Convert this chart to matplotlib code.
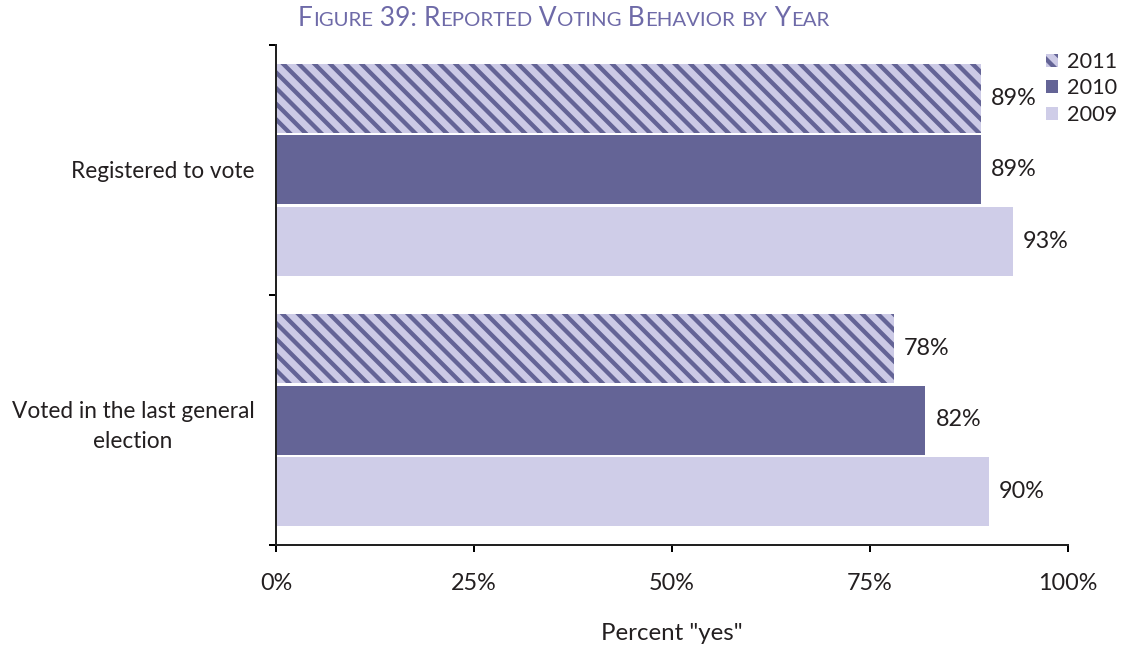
import numpy as np
import matplotlib.pyplot as plt
from matplotlib.offsetbox import TextArea, HPacker, AnchoredOffsetbox

categories = ['Registered to vote', 'Voted in the last general\nelection']
years = ['2011', '2010', '2009']
values = {
    '2011': [89, 78],
    '2010': [89, 82],
    '2009': [93, 90],
}
xticks = [0, 25, 50, 75, 100]

dark = '#646496'
light = '#CFCDE8'
hatch_bg = '#CCCAE6'
text_col = '#231F20'
title_col = '#6E6AA8'

# dpi picked so the hatch stripes come out at the right spacing; k keeps sizes in pixels the same
dpi = 94
k = 120 / dpi

plt.rcParams['font.family'] = ['Lato', 'DejaVu Sans']
plt.rcParams['hatch.linewidth'] = 3.3
plt.rcParams['hatch.color'] = dark

fig = plt.figure(figsize=(1127 / dpi, 645 / dpi), dpi=dpi)
ax = fig.add_axes([276 / 1127, 1 - 545 / 645, 792 / 1127, 500 / 645])

centers = np.arange(len(categories)) + 0.5
offsets = {'2011': -0.287, '2010': 0.0, '2009': 0.287}
h = 0.276

for yr in years:
    y = centers + offsets[yr]
    if yr == '2011':
        ax.barh(y, values[yr], height=h, color=hatch_bg, edgecolor=dark,
                linewidth=0, hatch='\\\\', label=yr)
    else:
        ax.barh(y, values[yr], height=h, color=dark if yr == '2010' else light,
                linewidth=0, label=yr)
    for yy, v in zip(y, values[yr]):
        ax.text(v + 1.3, yy, f'{v}%', va='center', ha='left', fontsize=14 * k, color=text_col)

ax.set_xlim(0, 100)
ax.set_ylim(2, 0)
ax.set_xticks(xticks)
ax.set_xticklabels([f'{t}%' for t in xticks])
ax.set_yticks([0, 1, 2])
ax.set_yticklabels([])
ax.set_yticks(centers, minor=True)
ax.set_yticklabels(categories, minor=True)
for lbl in ax.get_yticklabels(minor=True):
    lbl.set_multialignment('center')
    lbl.set_linespacing(1.55)

ax.tick_params(axis='y', which='minor', length=0, pad=13 * k, labelsize=13.6 * k,
               labelcolor=text_col)
ax.tick_params(axis='y', which='major', length=4 * k, width=1.2 * k, direction='out')
ax.tick_params(axis='x', length=4 * k, width=1.2 * k, direction='out', pad=13 * k,
               labelsize=14 * k, labelcolor=text_col)

for s in ['top', 'right']:
    ax.spines[s].set_visible(False)
for s in ['left', 'bottom']:
    ax.spines[s].set_linewidth(1.2 * k)
    ax.spines[s].set_color('#222222')

ax.set_xlabel('Percent "yes"', fontsize=14.4 * k, color=text_col, labelpad=17 * k)

ax.legend(loc='upper left', bbox_to_anchor=(1046 / 1127, 1 - 52 / 645),
          bbox_transform=fig.transFigure, frameon=False, fontsize=13 * k,
          handlelength=0.55, handleheight=0.55, handletextpad=0.4,
          labelspacing=0.3, borderpad=0, borderaxespad=0, labelcolor=text_col)

# small-caps title built from big and small pieces
parts = [('F', 1), ('IGURE', 0), (' 39: ', 1), ('R', 1), ('EPORTED', 0), (' V', 1),
         ('OTING', 0), (' B', 1), ('EHAVIOR', 0), (' ', 1), ('BY', 0), (' Y', 1), ('EAR', 0)]
boxes = [TextArea(t, textprops=dict(fontsize=(15.8 if big else 12.2) * k, color=title_col))
         for t, big in parts]
pack = HPacker(children=boxes, align='baseline', pad=0, sep=0)
title = AnchoredOffsetbox(loc='center', child=pack, frameon=False, pad=0,
                          bbox_to_anchor=(0.5, 1 - 19 / 645),
                          bbox_transform=fig.transFigure, borderpad=0)
fig.add_artist(title)

fig.savefig('out.png', dpi=dpi)
